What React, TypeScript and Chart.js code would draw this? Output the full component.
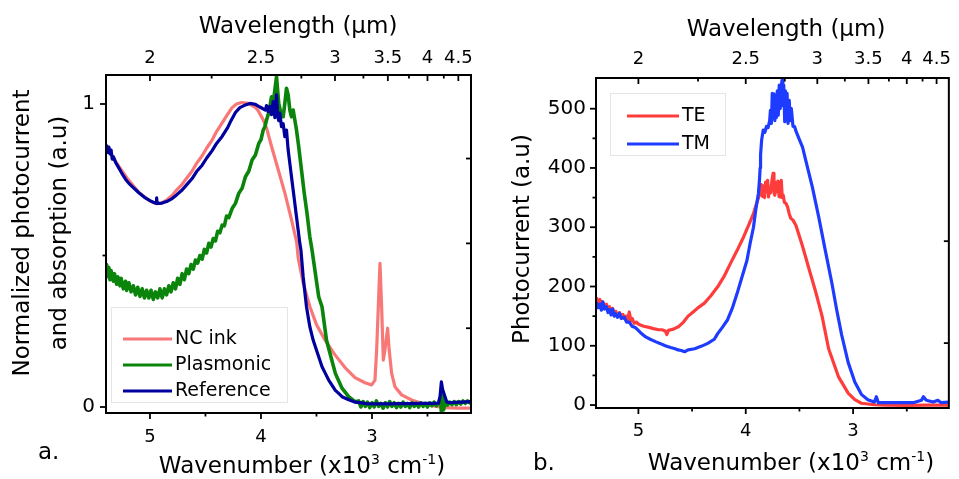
import React, { useEffect, useRef } from "react";
import { Chart, registerables } from "chart.js";

Chart.register(...registerables);

const FONT = "'DejaVu Sans', sans-serif";

// ---------------- Panel a: normalized photocurrent / absorption ----------------
const ncInkWn = [
  5.39, 5.3, 5.2, 5.1, 5.0, 4.94, 4.9, 4.85, 4.8, 4.76,
  4.71, 4.67, 4.62, 4.58, 4.53, 4.49, 4.44, 4.4, 4.35, 4.295,
  4.26, 4.22, 4.174, 4.114, 4.054, 4.025, 3.979, 3.949, 3.904, 3.844,
  3.784, 3.724, 3.679, 3.664, 3.619, 3.559, 3.499, 3.423, 3.333, 3.243,
  3.153, 3.063, 3.003, 2.973, 2.958, 2.943, 2.928, 2.913, 2.898, 2.883,
  2.859, 2.845, 2.823, 2.793, 2.733, 2.643, 2.553, 2.432, 2.342, 2.222,
  2.108,
];
const ncInkVal = [
  0.856, 0.805, 0.752, 0.708, 0.68, 0.671, 0.673, 0.683, 0.698, 0.716,
  0.735, 0.755, 0.779, 0.804, 0.829, 0.854, 0.881, 0.909, 0.938, 0.969,
  0.988, 1.0, 1.005, 1.002, 0.99, 0.978, 0.947, 0.92, 0.859, 0.782,
  0.705, 0.617, 0.545, 0.49, 0.408, 0.331, 0.271, 0.221, 0.172, 0.13,
  0.097, 0.08, 0.073, 0.089, 0.188, 0.331, 0.474, 0.331, 0.155, 0.188,
  0.26, 0.188, 0.111, 0.067, 0.04, 0.023, 0.012, 0.003, -0.002, -0.004,
  -0.004,
];

const plasmonicWn = [
  5.39, 5.38, 5.37, 5.36, 5.35, 5.33, 5.32, 5.3, 5.29, 5.27,
  5.26, 5.24, 5.22, 5.21, 5.19, 5.17, 5.15, 5.13, 5.11, 5.09,
  5.07, 5.05, 5.03, 5.01, 4.99, 4.97, 4.95, 4.93, 4.91, 4.89,
  4.87, 4.85, 4.83, 4.81, 4.79, 4.77, 4.75, 4.73, 4.71, 4.69,
  4.67, 4.65, 4.63, 4.61, 4.59, 4.57, 4.55, 4.53, 4.51, 4.49,
  4.47, 4.45, 4.43, 4.41, 4.39, 4.37, 4.35, 4.33, 4.31, 4.29,
  4.26, 4.23, 4.2, 4.17, 4.14, 4.11, 4.08, 4.05, 4.02, 4.0,
  3.98, 3.965, 3.95, 3.935, 3.92, 3.905, 3.89, 3.875, 3.86, 3.85,
  3.84, 3.82, 3.8, 3.785, 3.77, 3.755, 3.74, 3.725, 3.71, 3.695,
  3.68, 3.66, 3.635, 3.61, 3.585, 3.56, 3.54, 3.51, 3.48, 3.45,
  3.41, 3.37, 3.33, 3.27, 3.21, 3.15,
  3.12, 3.1, 3.08, 3.06, 3.04, 3.02, 3.0,
  2.98, 2.96, 2.94, 2.92, 2.9, 2.88, 2.86, 2.84, 2.82, 2.8,
  2.78, 2.76, 2.74, 2.72, 2.7, 2.68, 2.66, 2.64, 2.62, 2.6,
  2.58, 2.56, 2.54, 2.52, 2.5, 2.48, 2.46, 2.44, 2.42, 2.4,
  2.385, 2.375, 2.365, 2.355, 2.34,
  2.32, 2.3, 2.28, 2.26, 2.24, 2.22, 2.2, 2.18, 2.16, 2.14, 2.12,
  2.108,
];
const plasmonicVal = [
  0.47, 0.43, 0.46, 0.42, 0.45, 0.415, 0.44, 0.405, 0.43, 0.4,
  0.425, 0.39, 0.415, 0.385, 0.41, 0.38, 0.4, 0.37, 0.395, 0.365,
  0.39, 0.36, 0.385, 0.36, 0.385, 0.355, 0.38, 0.36, 0.39, 0.36,
  0.39, 0.37, 0.4, 0.38, 0.41, 0.39, 0.425, 0.405, 0.44, 0.42,
  0.455, 0.44, 0.47, 0.455, 0.485, 0.475, 0.5, 0.488, 0.52, 0.508,
  0.54, 0.528, 0.556, 0.548, 0.58, 0.575, 0.6, 0.598, 0.63, 0.625,
  0.655, 0.672, 0.705, 0.722, 0.76, 0.778, 0.815, 0.832, 0.87, 0.882,
  0.914, 0.925, 0.947, 0.965, 0.991, 1.024, 1.002, 1.046, 1.09, 1.046,
  1.002, 0.969, 0.958, 1.002, 1.052, 1.03, 0.98, 0.958, 0.98, 0.947,
  0.914, 0.859, 0.782, 0.705, 0.639, 0.562, 0.518, 0.441, 0.364, 0.331,
  0.221, 0.166, 0.111, 0.062, 0.034, 0.017,
  0.02, 0.0, 0.018, 0.002, 0.016, -0.002, 0.014,
  0.0, 0.02, 0.002, 0.012, -0.004, 0.014, 0.0, 0.018, 0.002, 0.014,
  -0.002, 0.012, 0.0, 0.016, 0.002, 0.012, -0.002, 0.014, 0.002, 0.012,
  0.0, 0.014, 0.002, 0.012, 0.0, 0.014, 0.004, 0.016, 0.004, 0.014,
  0.03, -0.015, 0.04, -0.01, 0.02,
  0.006, 0.016, 0.008, 0.018, 0.008, 0.018, 0.01, 0.02, 0.012, 0.02, 0.014,
  0.02,
];

const referenceWn = [
  5.39, 5.38, 5.37, 5.36, 5.35, 5.34, 5.33, 5.31, 5.29, 5.27,
  5.25, 5.22, 5.19, 5.15, 5.1, 5.05, 5.0, 4.97, 4.945, 4.94,
  4.935, 4.92, 4.89, 4.85, 4.8, 4.76, 4.71, 4.67, 4.62, 4.58,
  4.53, 4.49, 4.44, 4.4, 4.35, 4.3, 4.27, 4.23, 4.19, 4.14,
  4.1, 4.05, 4.01, 3.99, 3.96, 3.95, 3.935, 3.92, 3.905, 3.89,
  3.875, 3.86, 3.85, 3.84, 3.83, 3.815, 3.8, 3.785, 3.77, 3.755,
  3.74, 3.725, 3.71, 3.695, 3.68, 3.665, 3.65, 3.64, 3.62, 3.59,
  3.56, 3.53, 3.51, 3.45, 3.42, 3.39, 3.33, 3.3, 3.27, 3.21,
  3.15, 3.05, 2.95, 2.85, 2.75, 2.65, 2.55, 2.45, 2.4, 2.387,
  2.375, 2.365, 2.357, 2.342, 2.327, 2.3, 2.25, 2.2, 2.15, 2.108,
];
const referenceVal = [
  0.862, 0.84, 0.858, 0.835, 0.848, 0.818, 0.826, 0.808, 0.795, 0.782,
  0.769, 0.752, 0.738, 0.724, 0.707, 0.692, 0.681, 0.676, 0.672, 0.69,
  0.672, 0.672, 0.673, 0.678, 0.688, 0.7, 0.716, 0.733, 0.754, 0.777,
  0.798, 0.821, 0.846, 0.87, 0.893, 0.922, 0.945, 0.972, 0.988, 0.997,
  1.002, 0.999, 0.99, 0.986, 0.98, 0.995, 0.975, 0.992, 0.965, 1.008,
  0.955, 1.03, 0.96, 0.945, 0.97, 0.925, 0.935, 0.892, 0.914, 0.848,
  0.804, 0.76, 0.716, 0.672, 0.628, 0.584, 0.54, 0.518, 0.43, 0.331,
  0.265, 0.221, 0.199, 0.133, 0.111, 0.089, 0.055, 0.045, 0.034, 0.024,
  0.016, 0.011, 0.01, 0.01, 0.011, 0.011, 0.012, 0.012, 0.013, 0.034,
  0.083, 0.06, 0.05, 0.034, 0.017, 0.014, 0.015, 0.016, 0.017, 0.018,
];

// ---------------- Panel b: photocurrent TE / TM ----------------
const teWn = [
  5.389, 5.375, 5.359, 5.345, 5.332, 5.315, 5.298, 5.286, 5.27, 5.255,
  5.24, 5.225, 5.21, 5.195, 5.176, 5.16, 5.145, 5.131, 5.115, 5.1,
  5.085, 5.07, 5.057, 5.04, 5.02, 4.994, 4.95, 4.902, 4.86, 4.811,
  4.78, 4.75, 4.735, 4.72, 4.674, 4.628, 4.58, 4.537, 4.49, 4.446,
  4.385, 4.327, 4.263, 4.202, 4.142, 4.08, 4.019, 3.974, 3.928, 3.898,
  3.868, 3.855, 3.844, 3.835, 3.825, 3.815, 3.806, 3.796, 3.788, 3.78,
  3.77, 3.755, 3.745, 3.737, 3.729, 3.72, 3.71, 3.7, 3.69, 3.683,
  3.675, 3.669, 3.66, 3.651, 3.64, 3.624, 3.61, 3.594, 3.58, 3.56,
  3.532, 3.471, 3.411, 3.35, 3.289, 3.228, 3.137, 3.046, 2.984, 2.923,
  2.802, 2.7, 2.5, 2.3, 2.108,
];
const teVal = [
  180, 172, 178, 168, 174, 164, 170, 162, 166, 158,
  163, 153, 158, 150, 156, 148, 153, 146, 150, 144,
  157, 142, 146, 138, 140, 136, 133, 131, 129, 127,
  127, 125, 119, 126, 128, 132, 140, 150, 157, 164,
  172, 184, 199, 217, 239, 261, 284, 303, 323, 341,
  357, 372, 352, 370, 350, 376, 360, 379, 351, 365,
  358, 380, 391, 358, 354, 375, 360, 378, 352, 351,
  372, 379, 350, 354, 342, 340, 334, 322, 315, 312,
  303, 268, 230, 192, 150, 95, 48, 20, 9, 3,
  0.5, 0, -0.5, 0, 0,
];

const tmWn = [
  5.389, 5.375, 5.359, 5.345, 5.332, 5.315, 5.298, 5.283, 5.268, 5.254,
  5.24, 5.225, 5.213, 5.195, 5.176, 5.16, 5.131, 5.11, 5.085, 5.06,
  5.03, 4.98, 4.932, 4.89, 4.841, 4.8, 4.75, 4.7, 4.658, 4.63,
  4.6, 4.57, 4.537, 4.476, 4.416, 4.354, 4.293, 4.263, 4.218, 4.172,
  4.126, 4.081, 4.035, 3.989, 3.959, 3.928, 3.907, 3.882, 3.872, 3.866,
  3.862, 3.852, 3.837, 3.822, 3.807, 3.792, 3.777, 3.77, 3.761, 3.753,
  3.745, 3.737, 3.729, 3.722, 3.715, 3.706, 3.697, 3.688, 3.679, 3.67,
  3.662, 3.654, 3.646, 3.637, 3.63, 3.624, 3.615, 3.606, 3.595, 3.585,
  3.575, 3.56, 3.545, 3.532, 3.505, 3.471, 3.441, 3.38, 3.32, 3.259,
  3.197, 3.152, 3.106, 3.046, 2.984, 2.923, 2.863, 2.802, 2.783, 2.765,
  2.62, 2.44, 2.363, 2.345, 2.318, 2.254, 2.21, 2.18, 2.108,
];
const tmVal = [
  172, 164, 170, 160, 174, 162, 166, 156, 161, 152,
  162, 150, 154, 148, 155, 146, 148, 140, 140, 133,
  131, 122, 115, 111, 107, 104, 100, 97, 95, 93,
  92, 90, 93, 95, 99, 104, 111, 120, 131, 143,
  163, 188, 216, 244, 273, 300, 329, 357, 380, 400,
  422, 447, 464, 460, 470, 468, 480, 497, 475, 526,
  495, 525, 480, 514, 485, 530, 489, 540, 500, 535,
  548, 505, 540, 478, 530, 490, 526, 475, 514, 480,
  500, 470, 470, 462, 450, 435, 413, 368, 317, 261,
  205, 160, 118, 72, 39, 18, 9, 5, 14, 4,
  4, 4, 8, 14, 8, 5, 8, 4, 5,
];

// ---------------- Axes ----------------
const wavenumberMajor = [5, 4, 3];
const wavenumberMinor = [4.5, 3.5, 2.5];
const wavelengthMajor = [2, 2.5, 3, 3.5, 4, 4.5];
const wavelengthMinor = [2.25, 2.75, 3.25, 3.75, 4.25];
const normMajor = [0, 1];
const normMinor = [0.5];
const normMirror = [0.26, 0.54, 0.82];
const pcMajor = [0, 100, 200, 300, 400, 500];
const pcMinor = [50, 150, 250, 350, 450];
const pcMirror = [104.5, 276.5];

type Series = { label: string; wn: number[]; val: number[]; color: string; width: number; order: number };

type PanelCfg = {
  width: number;
  yWidth: number;
  topH: number;
  bottomH: number;
  padRight: number;
  xMin: number;
  xMax: number;
  yMin: number;
  yMax: number;
  yMajor: number[];
  yMinor: number[];
  yMirror: number[];
  bottomPad: number;
  topPad: number;
  yPad: number;
  series: Series[];
  topTitle: { x: number; y: number };
  bottomTitle: { x: number; y: number };
  yTitle: { lines: { text: string; x: number }[]; cy: number };
  letter: { text: string; x: number; y: number };
  legend: { box: { x: number; y: number; w: number; h: number }; rows: number[]; x1: number; x2: number; tx: number };
};

const panelA: PanelCfg = {
  width: 480,
  yWidth: 106,
  topH: 75,
  bottomH: 66,
  padRight: 9,
  xMin: 2.108,
  xMax: 5.396,
  yMin: -0.0198,
  yMax: 1.0957,
  yMajor: normMajor,
  yMinor: normMinor,
  yMirror: normMirror,
  bottomPad: 14,
  topPad: 6,
  yPad: 11,
  series: [
    { label: "NC ink", wn: ncInkWn, val: ncInkVal, color: "#F87878", width: 3.2, order: 3 },
    { label: "Plasmonic", wn: plasmonicWn, val: plasmonicVal, color: "#0A840A", width: 3.6, order: 2 },
    { label: "Reference", wn: referenceWn, val: referenceVal, color: "#00009E", width: 3.2, order: 1 },
  ],
  topTitle: { x: 298, y: 33 },
  bottomTitle: { x: 302, y: 473 },
  yTitle: { lines: [{ text: "Normalized photocurrent", x: 29 }, { text: "and absorption (a.u)", x: 66 }], cy: 233 },
  letter: { text: "a.", x: 38, y: 459 },
  legend: { box: { x: 111, y: 307, w: 176, h: 95 }, rows: [339, 365, 391], x1: 123, x2: 172, tx: 175 },
};

const panelB: PanelCfg = {
  width: 479,
  yWidth: 116,
  topH: 78,
  bottomH: 71,
  padRight: 3,
  xMin: 2.108,
  xMax: 5.395,
  yMin: -5,
  yMax: 551.8,
  yMajor: pcMajor,
  yMinor: pcMinor,
  yMirror: pcMirror,
  bottomPad: 13,
  topPad: 8,
  yPad: 10,
  series: [
    { label: "TE", wn: teWn, val: teVal, color: "#FF3C3C", width: 3.2, order: 2 },
    { label: "TM", wn: tmWn, val: tmVal, color: "#1E3CFF", width: 3.2, order: 1 },
  ],
  topTitle: { x: 306, y: 36 },
  bottomTitle: { x: 311, y: 470 },
  yTitle: { lines: [{ text: "Photocurrent (a.u)", x: 49 }], cy: 239 },
  letter: { text: "b.", x: 53, y: 470 },
  legend: { box: { x: 130, y: 93, w: 115, h: 62 }, rows: [116, 144], x1: 147, x2: 199, tx: 202 },
};

function pts(xs: number[], ys: number[]) {
  return xs.map((x, i) => ({ x, y: ys[i] }));
}

function drawParts(ctx: CanvasRenderingContext2D, parts: { t: string; sup?: boolean }[], cx: number, y: number) {
  const mainFont = `23px ${FONT}`;
  const supFont = `14px ${FONT}`;
  let total = 0;
  const widths = parts.map((p) => {
    ctx.font = p.sup ? supFont : mainFont;
    const w = ctx.measureText(p.t).width;
    total += w;
    return w;
  });
  let x = cx - total / 2;
  ctx.textAlign = "left";
  ctx.textBaseline = "alphabetic";
  parts.forEach((p, i) => {
    ctx.font = p.sup ? supFont : mainFont;
    ctx.fillText(p.t, x, p.sup ? y - 9 : y);
    x += widths[i];
  });
}

function makeDecor(p: PanelCfg) {
  return {
    id: "decor",
    afterDraw(chart: any) {
      const ctx = chart.ctx as CanvasRenderingContext2D;
      const a = chart.chartArea;
      const sx = chart.scales.x;
      const sy = chart.scales.y;
      ctx.save();
      ctx.strokeStyle = "#000";
      ctx.fillStyle = "#000";
      const seg = (x1: number, y1: number, x2: number, y2: number) => {
        ctx.beginPath();
        ctx.moveTo(x1, y1);
        ctx.lineTo(x2, y2);
        ctx.stroke();
      };
      ctx.lineWidth = 1.8;
      wavenumberMajor.forEach((v) => {
        const x = sx.getPixelForValue(v);
        seg(x, a.bottom, x, a.bottom + 6);
      });
      wavenumberMinor.forEach((v) => {
        const x = sx.getPixelForValue(v);
        seg(x, a.bottom, x, a.bottom + 3.5);
      });
      wavelengthMajor.forEach((l) => {
        const x = sx.getPixelForValue(10 / l);
        seg(x, a.top, x, a.top + 6);
      });
      wavelengthMinor.forEach((l) => {
        const x = sx.getPixelForValue(10 / l);
        seg(x, a.top, x, a.top + 3.5);
      });
      p.yMajor.forEach((v) => {
        const y = sy.getPixelForValue(v);
        seg(a.left - 6, y, a.left, y);
      });
      p.yMinor.forEach((v) => {
        const y = sy.getPixelForValue(v);
        seg(a.left - 3.5, y, a.left, y);
      });
      p.yMirror.forEach((v) => {
        const y = sy.getPixelForValue(v);
        seg(a.right - 5, y, a.right, y);
      });
      ctx.lineWidth = 2;
      ctx.strokeRect(a.left, a.top, a.right - a.left, a.bottom - a.top);

      // titles
      ctx.font = `23px ${FONT}`;
      ctx.textAlign = "center";
      ctx.textBaseline = "alphabetic";
      ctx.fillText("Wavelength (µm)", p.topTitle.x, p.topTitle.y);
      drawParts(
        ctx,
        [{ t: "Wavenumber (x10" }, { t: "3", sup: true }, { t: " cm" }, { t: "-1", sup: true }, { t: ")" }],
        p.bottomTitle.x,
        p.bottomTitle.y
      );
      ctx.font = `23px ${FONT}`;
      ctx.textAlign = "center";
      p.yTitle.lines.forEach((ln) => {
        ctx.save();
        ctx.translate(ln.x, p.yTitle.cy);
        ctx.rotate(-Math.PI / 2);
        ctx.fillText(ln.text, 0, 0);
        ctx.restore();
      });
      ctx.textAlign = "left";
      ctx.fillText(p.letter.text, p.letter.x, p.letter.y);

      // legend
      const lg = p.legend;
      ctx.lineWidth = 1;
      ctx.strokeStyle = "rgba(0,0,0,0.10)";
      ctx.strokeRect(lg.box.x + 0.5, lg.box.y + 0.5, lg.box.w, lg.box.h);
      ctx.font = `19px ${FONT}`;
      ctx.textBaseline = "middle";
      p.series.forEach((s, i) => {
        const y = lg.rows[i];
        ctx.strokeStyle = s.color;
        ctx.lineWidth = 3;
        seg(lg.x1, y, lg.x2, y);
        ctx.fillStyle = "#000";
        ctx.fillText(s.label, lg.tx, y);
      });
      ctx.restore();
    },
  };
}

function makeConfig(p: PanelCfg): any {
  const xFont = { family: FONT, size: 18 };
  const yFont = { family: FONT, size: 20 };
  const hidden = { display: false, drawTicks: false };
  return {
    type: "line",
    data: {
      datasets: p.series.map((s) => ({
        label: s.label,
        data: pts(s.wn, s.val),
        borderColor: s.color,
        backgroundColor: s.color,
        borderWidth: s.width,
        pointRadius: 0,
        fill: false,
        tension: 0,
        order: s.order,
        borderJoinStyle: "round",
        borderCapStyle: "round",
      })),
    },
    options: {
      responsive: false,
      animation: false,
      devicePixelRatio: 1,
      events: [],
      layout: { padding: { left: 0, top: 0, right: p.padRight, bottom: 0 } },
      plugins: { legend: { display: false }, tooltip: { enabled: false } },
      scales: {
        x: {
          type: "linear",
          position: "bottom",
          min: p.xMin,
          max: p.xMax,
          reverse: true,
          grid: hidden,
          border: { display: false },
          afterFit: (s: any) => {
            s.height = p.bottomH;
          },
          afterBuildTicks: (s: any) => {
            s.ticks = wavenumberMajor.map((v) => ({ value: v }));
          },
          ticks: {
            autoSkip: false,
            maxRotation: 0,
            minRotation: 0,
            padding: p.bottomPad,
            color: "#000",
            font: xFont,
            callback: (v: number) => String(v),
          },
        },
        xTop: {
          type: "linear",
          axis: "x",
          position: "top",
          min: p.xMin,
          max: p.xMax,
          reverse: true,
          grid: hidden,
          border: { display: false },
          afterFit: (s: any) => {
            s.height = p.topH;
          },
          afterBuildTicks: (s: any) => {
            s.ticks = wavelengthMajor.map((l) => ({ value: 10 / l }));
          },
          ticks: {
            autoSkip: false,
            maxRotation: 0,
            minRotation: 0,
            padding: p.topPad,
            color: "#000",
            font: xFont,
            callback: (v: number) => String(Math.round((10 / v) * 100) / 100),
          },
        },
        y: {
          type: "linear",
          position: "left",
          min: p.yMin,
          max: p.yMax,
          grid: hidden,
          border: { display: false },
          afterFit: (s: any) => {
            s.width = p.yWidth;
          },
          afterBuildTicks: (s: any) => {
            s.ticks = p.yMajor.map((v) => ({ value: v }));
          },
          ticks: {
            autoSkip: false,
            padding: p.yPad,
            color: "#000",
            font: yFont,
            callback: (v: number) => String(v),
          },
        },
      },
    },
    plugins: [makeDecor(p)],
  };
}

function Panel({ cfg, left }: { cfg: PanelCfg; left: number }) {
  const ref = useRef<HTMLCanvasElement | null>(null);
  useEffect(() => {
    if (!ref.current) return;
    const chart = new Chart(ref.current, makeConfig(cfg));
    return () => chart.destroy();
  }, [cfg]);
  return (
    <canvas
      ref={ref}
      width={cfg.width}
      height={479}
      style={{ position: "absolute", left, top: 0, width: cfg.width, height: 479, display: "block" }}
    />
  );
}

export default function App() {
  return (
    <div
      style={{
        position: "fixed",
        left: 0,
        top: 0,
        width: 959,
        height: 479,
        background: "#fff",
        overflow: "hidden",
      }}
    >
      <Panel cfg={panelA} left={0} />
      <Panel cfg={panelB} left={480} />
    </div>
  );
}
